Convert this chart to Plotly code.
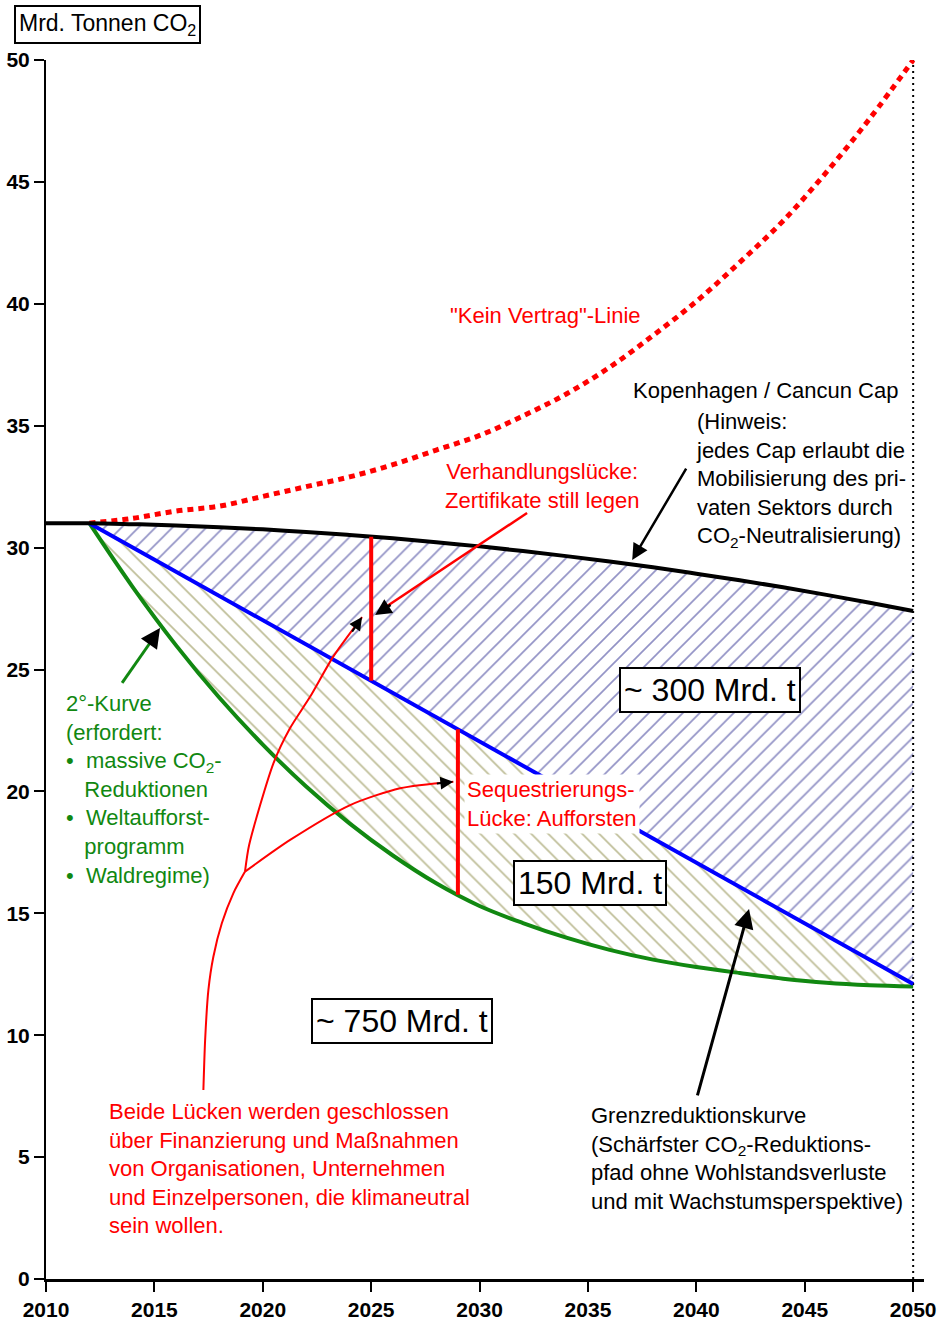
import plotly.graph_objects as go
import numpy as np

FONT = "Liberation Sans, Arial, sans-serif"

# ---- data ----
cap_years = list(range(2010, 2051, 2))
cap_vals = [31.0, 31.0, 30.96, 30.91, 30.83, 30.75, 30.64, 30.52, 30.38, 30.22, 30.05,
            29.86, 29.65, 29.43, 29.19, 28.93, 28.66, 28.37, 28.06, 27.74, 27.40]

nodeal_years = list(range(2012, 2051, 2))
nodeal_vals = [31.0, 31.2, 31.5, 31.7, 32.1, 32.5, 32.9, 33.4, 34.0, 34.6, 35.4,
               36.3, 37.4, 38.7, 40.1, 41.7, 43.4, 45.4, 47.6, 50.0]

grenz_years = [2012, 2050]
grenz_vals = [31.0, 12.1]

two_deg_years = list(range(2012, 2051, 2))
two_deg_vals = [31.0, 28.38, 25.99, 23.84, 21.92, 20.20, 18.69, 17.37, 16.23, 15.3,
                14.6, 14.0, 13.5, 13.1, 12.8, 12.55, 12.32, 12.15, 12.05, 12.0]

gap_years = [2025, 2029]  # Verhandlungslücke, Sequestrierungslücke

# red connector curves (from the bottom text to the two gaps)
trunk_x = [2017.26, 2017.34, 2017.49, 2017.72, 2018.11, 2018.64, 2019.18]
trunk_y = [7.75, 9.80, 11.85, 13.22, 14.59, 15.82, 16.71]
branch1_x = [2019.18, 2019.37, 2020.49, 2021.26, 2022.18, 2023.25, 2024.58]
branch1_y = [16.71, 17.80, 21.15, 22.60, 23.88, 25.53, 27.15]
branch2_x = [2019.18, 2021.26, 2024.03, 2026.33, 2028.79]
branch2_y = [16.71, 18.01, 19.44, 20.13, 20.40]

x_ticks = list(range(2010, 2051, 5))
y_ticks = list(range(0, 51, 5))

# ---- derived ----
cap_fill_x = cap_years[1:]
cap_fill_y = cap_vals[1:]
gap1_top = float(np.interp(gap_years[0], cap_years, cap_vals))
gap1_bot = float(np.interp(gap_years[0], grenz_years, grenz_vals))
gap2_top = float(np.interp(gap_years[1], grenz_years, grenz_vals))
gap2_bot = float(np.interp(gap_years[1], two_deg_years, two_deg_vals))

fig = go.Figure()

# hatched areas
fig.add_trace(go.Scatter(x=cap_fill_x, y=cap_fill_y, mode="lines",
                         line=dict(width=0, color="black"), showlegend=False, hoverinfo="skip"))
fig.add_trace(go.Scatter(x=grenz_years, y=grenz_vals, mode="lines", fill="tonexty",
                         line=dict(width=0, color="blue"), fillcolor="white",
                         fillpattern=dict(shape="/", fgcolor="#26268c", bgcolor="white",
                                          size=12, solidity=0.14),
                         showlegend=False, hoverinfo="skip"))
fig.add_trace(go.Scatter(x=two_deg_years, y=two_deg_vals, mode="lines", fill="tonexty",
                         line=dict(width=0, color="green", shape="spline"), fillcolor="white",
                         fillpattern=dict(shape="\\", fgcolor="#7e7c30", bgcolor="white",
                                          size=12, solidity=0.14),
                         showlegend=False, hoverinfo="skip"))

# vertical dotted line at 2050
fig.add_trace(go.Scatter(x=[2050, 2050], y=[0, 50], mode="lines",
                         line=dict(color="black", width=2, dash="2px,4px"),
                         showlegend=False, hoverinfo="skip"))

# curves
fig.add_trace(go.Scatter(x=nodeal_years, y=nodeal_vals, mode="lines",
                         line=dict(color="#ff0000", width=5, dash="6px,5px", shape="spline"),
                         showlegend=False))
fig.add_trace(go.Scatter(x=two_deg_years, y=two_deg_vals, mode="lines",
                         line=dict(color="#118811", width=4, shape="spline"), showlegend=False))
fig.add_trace(go.Scatter(x=grenz_years, y=grenz_vals, mode="lines",
                         line=dict(color="#0000ff", width=4), showlegend=False))
fig.add_trace(go.Scatter(x=cap_years, y=cap_vals, mode="lines",
                         line=dict(color="black", width=4, shape="spline"), showlegend=False))

# red gap bars
fig.add_trace(go.Scatter(x=[gap_years[0], gap_years[0]], y=[gap1_bot, gap1_top], mode="lines",
                         line=dict(color="#ff0000", width=4), showlegend=False))
fig.add_trace(go.Scatter(x=[gap_years[1], gap_years[1]], y=[gap2_bot, gap2_top], mode="lines",
                         line=dict(color="#ff0000", width=4), showlegend=False))

# red connector curves
for xs, ys in [(trunk_x, trunk_y), (branch1_x, branch1_y), (branch2_x, branch2_y)]:
    fig.add_trace(go.Scatter(x=xs, y=ys, mode="lines",
                             line=dict(color="#ff0000", width=2, shape="spline", smoothing=0.7),
                             showlegend=False, hoverinfo="skip"))

# Verhandlungslücke arrow body (red) and green 2°-arrow body
fig.add_trace(go.Scatter(x=[2032.19, 2025.6], y=[31.42, 27.52], mode="lines",
                         line=dict(color="#ff0000", width=2.5), showlegend=False, hoverinfo="skip"))
fig.add_trace(go.Scatter(x=[2013.51, 2014.9], y=[24.45, 26.22], mode="lines",
                         line=dict(color="#118811", width=3), showlegend=False, hoverinfo="skip"))

RED = "#ff0000"
GREEN = "#118811"
NB = "\u00a0"
ann = []


def txt(x, y, text, color="black", size=22, xanchor="left", yanchor="middle", align="left", **kw):
    d = dict(x=x, y=y, xref="x", yref="y", text=text, showarrow=False,
             font=dict(family=FONT, size=size, color=color),
             xanchor=xanchor, yanchor=yanchor, align=align)
    d.update(kw)
    ann.append(d)


def head(x, y, ax, ay, width=2.5):
    ann.append(dict(x=x, y=y, xref="x", yref="y", ax=ax, ay=ay, text="",
                    showarrow=True, arrowhead=2, arrowsize=1.3, arrowwidth=width,
                    arrowcolor="black", standoff=0))


def arrow(x, y, tx, ty, width=2.5, color="black"):
    ann.append(dict(x=x, y=y, xref="x", yref="y", ax=tx, ay=ty, axref="x", ayref="y",
                    text="", showarrow=True, arrowhead=2, arrowsize=1.3, arrowwidth=width,
                    arrowcolor=color, standoff=0))


txt(2033.02, 39.5, "\"Kein Vertrag\"-Linie", color=RED, xanchor="center", align="center")
txt(2043.17, 36.46, "Kopenhagen / Cancun Cap", xanchor="center", align="center")
txt(2039.9, 32.77, "(Hinweis:<br>jedes Cap erlaubt die<br>Mobilisierung des pri-<br>"
                   "vaten Sektors durch<br>CO<sub>2</sub>-Neutralisierung)")
txt(2032.88, 32.53, "Verhandlungslücke:<br>Zertifikate still legen", color=RED,
    xanchor="center", align="center")
txt(2029.3, 19.48, "Sequestrierungs-<br>Lücke: Aufforsten", color=RED,
    bgcolor="white", borderpad=2)

txt(2010.83, 20.06,
    "2°-Kurve<br>(erfordert:<br>" + "•" + NB * 2 + "massive CO<sub>2</sub>-<br>" + NB * 3 + "Reduktionen<br>"
    + "•" + NB * 2 + "Weltaufforst-<br>" + NB * 3 + "programm<br>" + "•" + NB * 2 + "Waldregime)",
    color=GREEN)

txt(2012.81, 4.55, "Beide Lücken werden geschlossen<br>über Finanzierung und Maßnahmen<br>"
                   "von Organisationen, Unternehmen<br>und Einzelpersonen, die klimaneutral<br>"
                   "sein wollen.", color=RED)
txt(2035.05, 4.96, "Grenzreduktionskurve<br>(Schärfster CO<sub>2</sub>-Reduktions-<br>"
                   "pfad ohne Wohlstandsverluste<br>und mit Wachstumsperspektive)")

# boxed totals
for x, y, t in [(2040.63, 24.16, "~ 300 Mrd. t"), (2035.1, 16.24, "150 Mrd. t"),
                (2026.4, 10.58, "~ 750 Mrd. t")]:
    txt(x, y, t, size=32, xanchor="center", align="center",
        bgcolor="white", bordercolor="black", borderwidth=2, borderpad=3)

# arrows
arrow(2037.04, 29.49, 2039.57, 33.3, width=2.5)
arrow(2042.43, 15.18, 2040.03, 7.47, width=3)
head(2025.18, 27.24, 17, -11)
head(2024.58, 27.15, -11, 16, width=2)
head(2028.79, 20.40, -18, 2, width=2)
head(2015.26, 26.70, -11, 16, width=3)

# y-axis title box
ann.append(dict(x=(107 - 46) / 878, y=(1279 - 24) / 1219, xref="paper", yref="paper",
                text="Mrd. Tonnen CO<sub>2</sub>", showarrow=False,
                font=dict(family=FONT, size=23, color="black"),
                bordercolor="black", borderwidth=2, borderpad=3, bgcolor="white",
                xanchor="center", yanchor="middle"))

fig.update_layout(
    width=941, height=1321,
    margin=dict(l=46, r=17, t=60, b=42, autoexpand=False),
    paper_bgcolor="white", plot_bgcolor="white",
    showlegend=False,
    annotations=ann,
    xaxis=dict(range=[2010, 2050.5], tickvals=x_ticks, ticks="outside", ticklen=10,
               tickwidth=2, tickcolor="black", showline=True, linecolor="black", linewidth=3,
               showgrid=False, zeroline=False, automargin=False,
               tickfont=dict(family=FONT, size=21, color="black", weight="bold")),
    yaxis=dict(range=[0, 50], tickvals=y_ticks, ticks="outside", ticklen=10,
               tickwidth=2, tickcolor="black", showline=True, linecolor="black", linewidth=2,
               showgrid=False, zeroline=False, automargin=False,
               tickfont=dict(family=FONT, size=21, color="black", weight="bold")),
)

# remove the default 8px page margin and any scrollbars so the figure fills the window
fig.write_html("out.html", config={"displayModeBar": False}, post_script=(
    "document.documentElement.style.overflow='hidden';"
    "document.body.style.overflow='hidden';"
    "document.body.style.margin='0';"
))
